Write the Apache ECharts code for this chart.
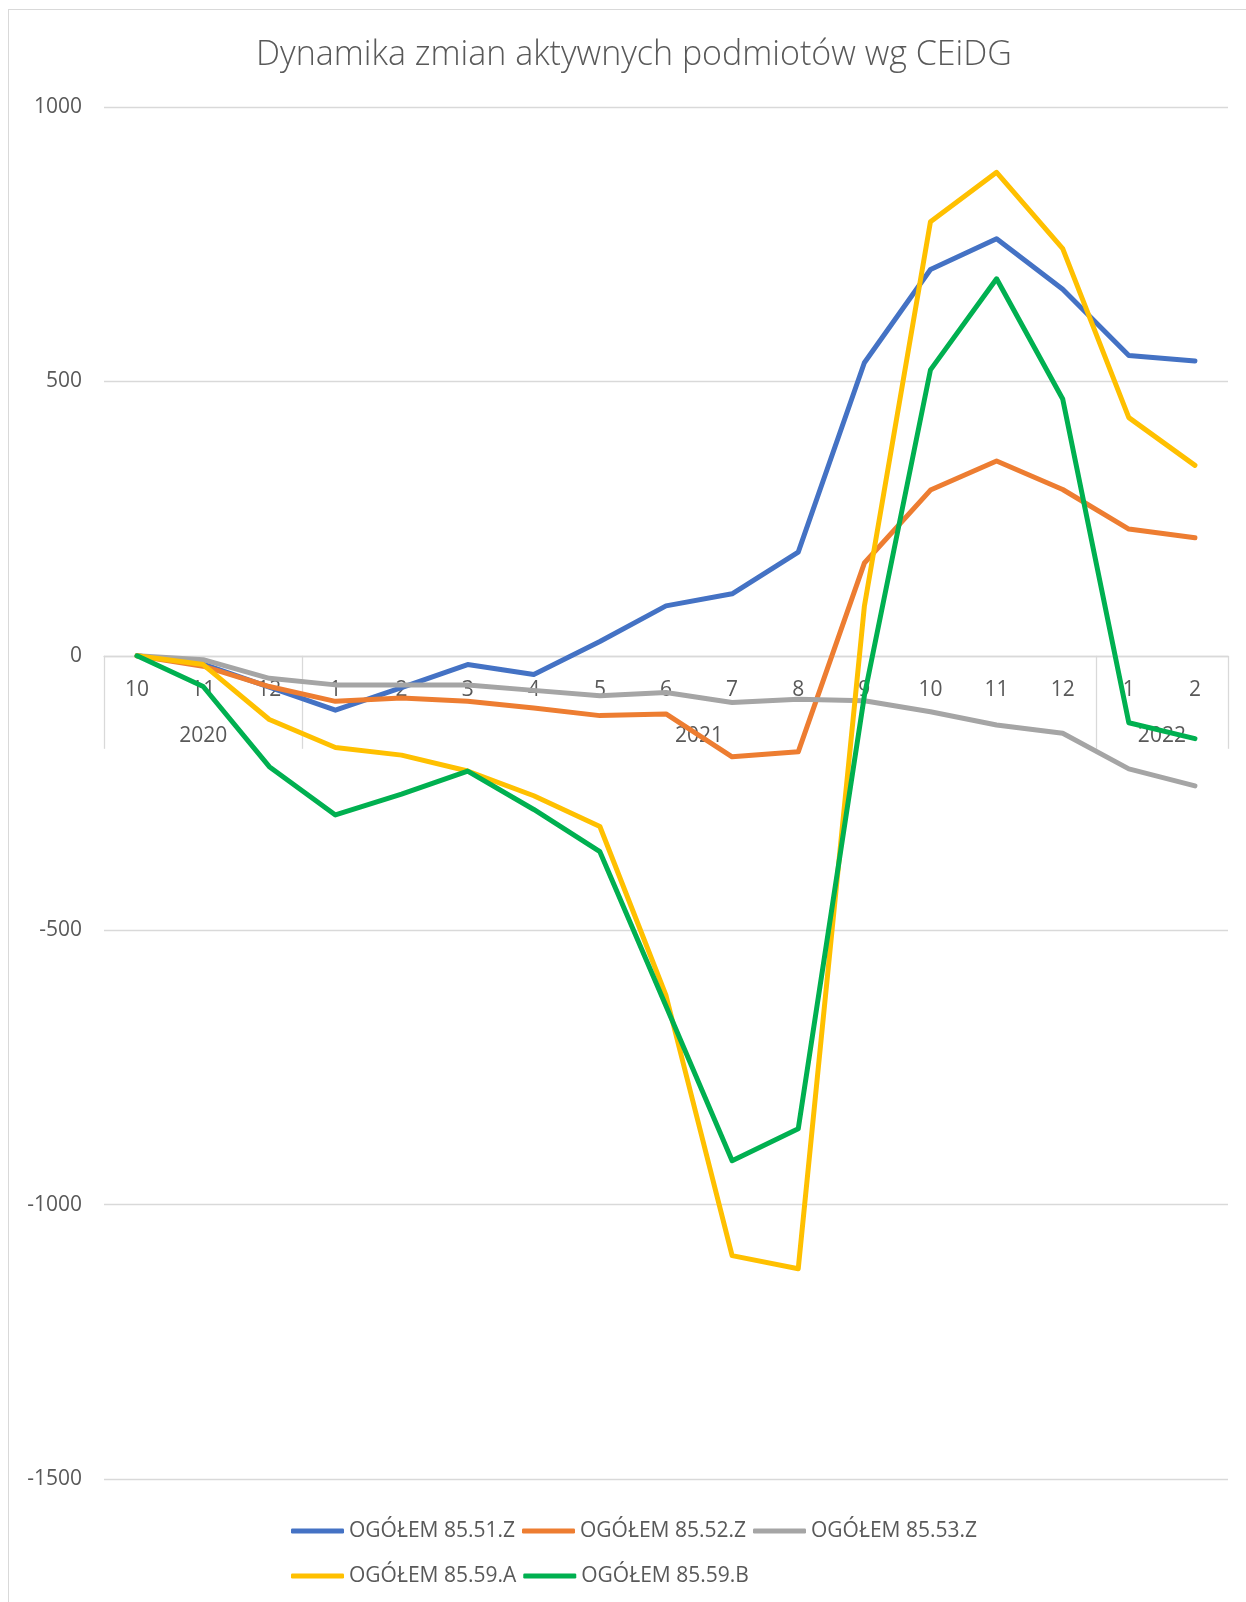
<!DOCTYPE html>
<html>
<head>
<meta charset="utf-8">
<script src="https://cdn.jsdelivr.net/npm/echarts@6/dist/echarts.min.js"></script>
<style>
  html, body { margin: 0; padding: 0; background: #fff; overflow: hidden; }
  #frame { position: absolute; left: 8px; top: 9px; width: 1400px; height: 1700px;
           border-left: 1.5px solid #d9d9d9; border-top: 1.5px solid #d9d9d9; }
  #chart { position: absolute; left: 0; top: 0; width: 1268px; height: 1602px; }
</style>
</head>
<body>
<div id="frame"></div>
<div id="chart"></div>
<script>
var months = ['10', '11', '12', '1', '2', '3', '4', '5', '6', '7', '8', '9', '10', '11', '12', '1', '2'];
var years = ['2020', '2021', '2022'];
var yearSpans = [3, 12, 2];

var s5551Z = [0, -15, -57, -99, -58, -16, -34, 26, 91, 113, 189, 534, 704, 760, 668, 547, 537];
var s5552Z = [0, -19, -56, -83, -77, -83, -95, -109, -106, -184, -175, 169, 302, 355, 303, 231, 215];
var s5553Z = [0, -7, -41, -53, -53, -53, -63, -73, -67, -85, -79, -82, -102, -126, -141, -206, -237];
var s5559A = [0, -16, -116, -167, -181, -210, -255, -311, -619, -1093, -1117, 90, 791, 881, 742, 434, 347];
var s5559B = [0, -56, -202, -290, -252, -210, -280, -357, -638, -920, -862, -73, 521, 687, 468, -122, -151];

var seriesNames = ['OGÓŁEM 85.51.Z', 'OGÓŁEM 85.52.Z', 'OGÓŁEM 85.53.Z', 'OGÓŁEM 85.59.A', 'OGÓŁEM 85.59.B'];
var seriesData = [s5551Z, s5552Z, s5553Z, s5559A, s5559B];
var colors = ['#4472C4', '#ED7D31', '#A5A5A5', '#FFC000', '#00B050'];

var yMin = -1500, yMax = 1000;

// group boundaries and mid points for the year row
var bounds = [0];
var mids = [];
yearSpans.forEach(function (n, i) {
  var start = bounds[i];
  bounds.push(start + n);
  mids.push(start + n / 2);
});

var H = 1602;
var gridTop = 107, gridBottom = 123;
var plotH = H - gridTop - gridBottom;
// category axis sits on the zero line: shift it up from the bottom of the grid
var zeroOffset = -plotH * (0 - yMin) / (yMax - yMin);

var font = '"Open Sans", "Noto Sans", sans-serif';
var txt = '#595959';

var chart = echarts.init(document.getElementById('chart'));

chart.setOption({
  animation: false,
  color: colors,
  title: {
    text: 'Dynamika zmian aktywnych podmiotów wg CEiDG',
    left: 'center',
    top: 33,
    textStyle: { color: txt, fontFamily: font, fontSize: 34, fontWeight: 300 }
  },
  legend: {
    data: seriesNames,
    left: 'center',
    top: 1512,
    width: 740,
    padding: 0,
    itemGap: 7,
    itemWidth: 53,
    itemHeight: 5,
    icon: 'roundRect',
    textStyle: { color: txt, fontFamily: font, fontSize: 21, lineHeight: 38 }
  },
  grid: { left: 104, right: 40, top: gridTop, bottom: gridBottom },
  xAxis: [{
    type: 'category',
    data: months,
    position: 'bottom',
    offset: zeroOffset,
    axisLine: { onZero: false, lineStyle: { color: '#d9d9d9', width: 1.3 } },
    axisTick: { show: false },
    axisLabel: { interval: 0, margin: 24, color: txt, fontFamily: font, fontSize: 21 }
  }, {
    type: 'value',
    min: 0,
    max: months.length,
    position: 'bottom',
    offset: zeroOffset,
    splitLine: { show: false },
    axisLine: { show: false, onZero: false },
    axisTick: {
      show: true, length: 93, customValues: bounds,
      lineStyle: { color: '#d9d9d9', width: 1.3 }
    },
    axisLabel: {
      customValues: mids,
      margin: 70,
      color: txt, fontFamily: font, fontSize: 21,
      formatter: function (v) {
        var i = mids.indexOf(v);
        return i >= 0 ? years[i] : '';
      }
    }
  }],
  yAxis: {
    type: 'value',
    min: yMin,
    max: yMax,
    interval: 500,
    axisLine: { show: false },
    axisTick: { show: false },
    axisLabel: {
      margin: 22, color: txt, fontFamily: font, fontSize: 21,
      formatter: function (v) { return String(v); }
    },
    splitLine: { lineStyle: { color: '#d9d9d9', width: 1.3 } }
  },
  series: seriesData.map(function (d, i) {
    return {
      name: seriesNames[i],
      type: 'line',
      data: d,
      showSymbol: false,
      symbol: 'none',
      lineStyle: { width: 5, color: colors[i], cap: 'round', join: 'round' }
    };
  })
});
</script>
</body>
</html>
